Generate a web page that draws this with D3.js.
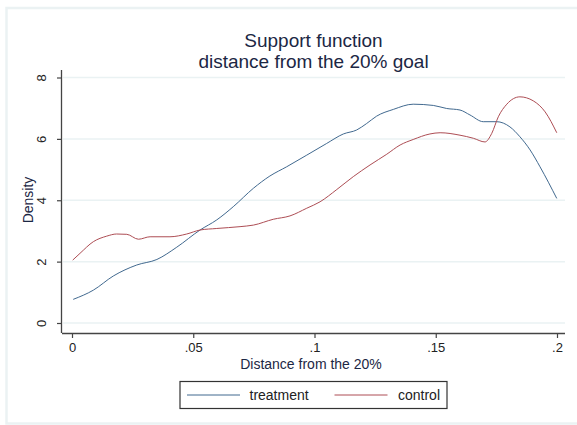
<!DOCTYPE html>
<html>
<head>
<meta charset="utf-8">
<script src="https://cdn.jsdelivr.net/npm/d3@7/dist/d3.min.js"></script>
<style>
  body { margin: 0; background: #fff; }
  svg { display: block; font-family: "Liberation Sans", Arial, sans-serif; }
</style>
</head>
<body>
<div id="chart"></div>
<script>
// Kernel densities: distance from the 20% goal, treatment vs control

const treatment = [
  [0.0005, 0.77], [0.0088, 1.07], [0.017, 1.53], [0.0267, 1.89], [0.035, 2.07],
  [0.0432, 2.47], [0.0528, 3.03], [0.0597, 3.36], [0.0665, 3.79], [0.0748, 4.39],
  [0.0816, 4.79], [0.0885, 5.09], [0.0968, 5.47], [0.105, 5.85], [0.1119, 6.16],
  [0.1174, 6.29], [0.1215, 6.5], [0.1256, 6.74], [0.1325, 6.96], [0.1407, 7.13],
  [0.149, 7.09], [0.1545, 6.99], [0.16, 6.94], [0.1641, 6.78], [0.1696, 6.56],
  [0.1751, 6.56], [0.1806, 6.39], [0.1847, 6.07], [0.1889, 5.64], [0.193, 5.09],
  [0.1999, 4.06]
];
const control = [
  [0.0003, 2.05], [0.0033, 2.27], [0.0088, 2.65], [0.0143, 2.83], [0.0184, 2.9],
  [0.0226, 2.89], [0.0274, 2.73], [0.0322, 2.81], [0.0404, 2.81], [0.0473, 2.9],
  [0.0528, 3.03], [0.0597, 3.08], [0.0693, 3.14], [0.0748, 3.19], [0.083, 3.38],
  [0.0899, 3.49], [0.0968, 3.74], [0.1023, 3.95], [0.1092, 4.35], [0.116, 4.77],
  [0.1229, 5.15], [0.1298, 5.5], [0.1353, 5.8], [0.1407, 5.98], [0.1476, 6.16],
  [0.1518, 6.2], [0.16, 6.12], [0.1655, 6.02], [0.1703, 5.9], [0.1731, 6.18],
  [0.1758, 6.72], [0.1793, 7.13], [0.1847, 7.37], [0.1902, 7.24], [0.1951, 6.88],
  [0.1999, 6.2]
];
const xTicks = [0, 0.05, 0.1, 0.15, 0.2];
const xTickLabels = ["0", ".05", ".1", ".15", ".2"];
const yTicks = [0, 2, 4, 6, 8];
const seriesNames = ["treatment", "control"];
const seriesColors = ["#41698f", "#ad4d54"];

const width = 577, height = 425;
const plot = { left: 62, right: 565, top: 70, bottom: 333 };

const svg = d3.select("#chart").append("svg")
  .attr("width", width).attr("height", height);

// outer graph frame
svg.append("rect")
  .attr("x", 6.5).attr("y", 8).attr("width", 572).attr("height", 415.5)
  .attr("fill", "#fff").attr("stroke", "#ebf2f3").attr("stroke-width", 2.5);

const x = d3.scaleLinear().domain([0, 0.2]).range([72, 557]);
const y = d3.scaleLinear().domain([0, 8]).range([323, 77.5]);

// gridlines
svg.append("g").selectAll("line").data(yTicks).join("line")
  .attr("x1", plot.left + 1).attr("x2", plot.right)
  .attr("y1", d => y(d)).attr("y2", d => y(d))
  .attr("stroke", "#eaf2f3").attr("stroke-width", 1.5);

// axes
const gX = svg.append("g").attr("transform", `translate(0,${plot.bottom})`)
  .call(d3.axisBottom(x).tickValues(xTicks).tickFormat((d, i) => xTickLabels[i]).tickSize(5).tickPadding(5));
gX.select(".domain").attr("d", `M${plot.left},0.5H${plot.right}`);

const gY = svg.append("g").attr("transform", `translate(${plot.left},0)`)
  .call(d3.axisLeft(y).tickValues(yTicks).tickSize(5));
gY.select(".domain").attr("d", `M-0.5,${plot.top}V${plot.bottom}`);
gY.selectAll(".tick text")
  .attr("transform", "rotate(-90)")
  .attr("x", 0).attr("y", -16).attr("dy", 0)
  .attr("text-anchor", "middle");

[gX, gY].forEach(g => {
  g.select(".domain").attr("stroke", "#444").attr("stroke-width", 1.3);
  g.selectAll(".tick line").attr("stroke", "#444").attr("stroke-width", 1.2);
  g.selectAll(".tick text").attr("fill", "#222").attr("font-size", 13)
    .attr("font-family", "Liberation Sans, Arial, sans-serif");
});

// density curves
const line = d3.line().x(d => x(d[0])).y(d => y(d[1])).curve(d3.curveMonotoneX);
[treatment, control].forEach((s, i) => {
  svg.append("path").datum(s)
    .attr("fill", "none").attr("stroke", seriesColors[i])
    .attr("stroke-width", 1).attr("d", line);
});

// titles
const title = svg.append("text").attr("text-anchor", "middle")
  .attr("fill", "#1c2744").attr("font-size", 19);
title.append("tspan").attr("x", (plot.left + plot.right) / 2).attr("y", 47).text("Support function");
title.append("tspan").attr("x", (plot.left + plot.right) / 2).attr("y", 68).text("distance from the 20% goal");

svg.append("text").attr("x", 311).attr("y", 369).attr("text-anchor", "middle")
  .attr("fill", "#1c2744").attr("font-size", 14).text("Distance from the 20%");

svg.append("text").attr("transform", `translate(33,200) rotate(-90)`)
  .attr("text-anchor", "middle").attr("fill", "#1c2744").attr("font-size", 14).text("Density");

// legend
const lg = svg.append("g");
lg.append("rect").attr("x", 180).attr("y", 381.5).attr("width", 267).attr("height", 27)
  .attr("fill", "#fff").attr("stroke", "#333").attr("stroke-width", 1.2);
const items = [{ x0: 187, x1: 240, tx: 249.5 }, { x0: 334.5, x1: 387.5, tx: 398 }];
items.forEach((it, i) => {
  lg.append("line").attr("x1", it.x0).attr("x2", it.x1).attr("y1", 395).attr("y2", 395)
    .attr("stroke", seriesColors[i]).attr("stroke-width", 1);
  lg.append("text").attr("x", it.tx).attr("y", 400).attr("font-size", 14)
    .attr("fill", "#222").text(seriesNames[i]);
});
</script>
</body>
</html>
